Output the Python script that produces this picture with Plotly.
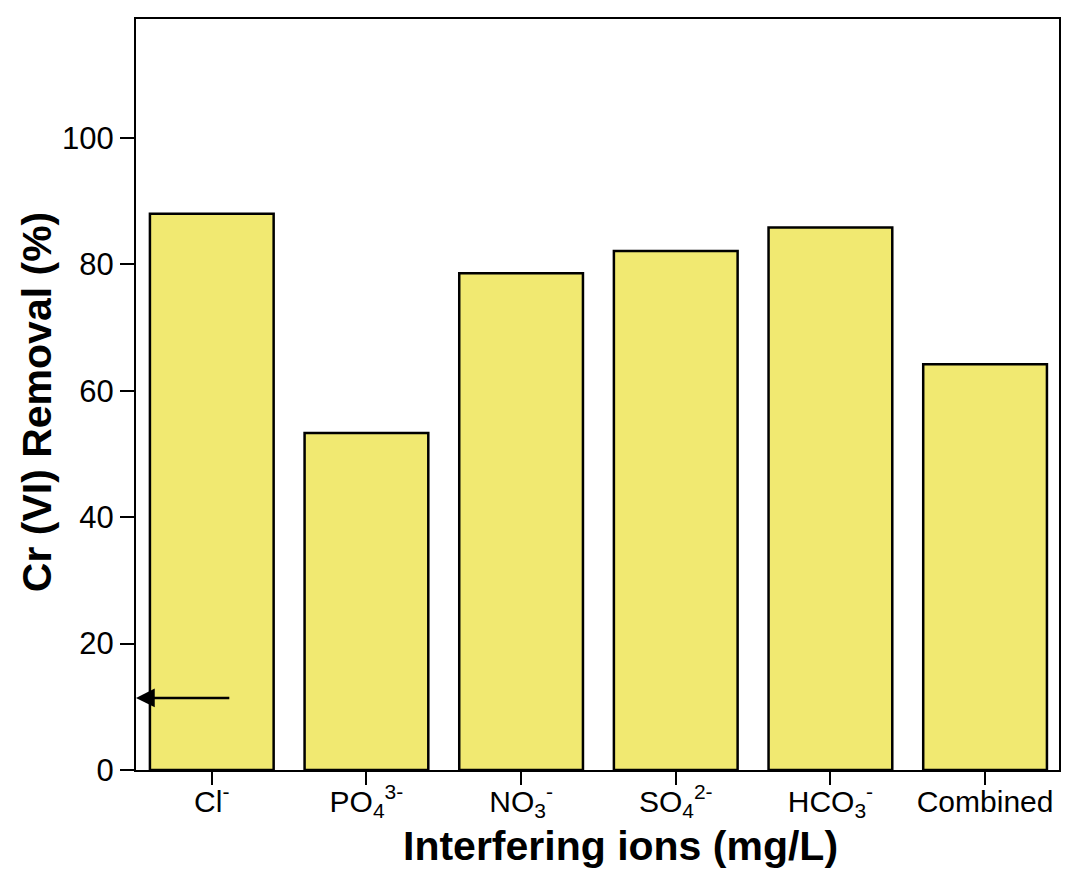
import plotly.graph_objects as go

categories = ["Cl<sup>-</sup>", "PO<sub>4</sub><sup>3-</sup>", "NO<sub>3</sub><sup>-</sup>",
              "SO<sub>4</sub><sup>2-</sup>", "HCO<sub>3</sub><sup>-</sup>", "Combined"]
removal = [88.0, 53.3, 78.6, 82.1, 85.8, 64.2]
y_ticks = [0, 20, 40, 60, 80, 100]
arrow_y = 11.4

x_pos = list(range(len(categories)))

fig = go.Figure()
fig.add_trace(go.Bar(
    x=x_pos, y=removal, width=0.8,
    marker=dict(color="rgb(241,233,113)", line=dict(color="black", width=2.5)),
))

fig.update_layout(
    width=1067, height=869,
    margin=dict(l=136, r=6, t=19, b=99),
    paper_bgcolor="white", plot_bgcolor="white",
    showlegend=False,
    font=dict(family="Liberation Sans, Arial, sans-serif", color="black"),
)
fig.update_xaxes(
    range=[-0.49, 5.478], tickmode="array", tickvals=x_pos, ticktext=categories,
    showline=True, linecolor="black", linewidth=2, mirror=True,
    ticks="outside", ticklen=13, tickwidth=2, tickcolor="black",
    tickfont=dict(size=30), ticklabelstandoff=-9, showgrid=False, zeroline=False,
)
fig.update_yaxes(
    range=[0, 118.8], tickmode="array", tickvals=y_ticks,
    showline=True, linecolor="black", linewidth=2, mirror=True,
    ticks="outside", ticklen=14, tickwidth=2, tickcolor="black",
    tickfont=dict(size=31), showgrid=False, zeroline=False,
)

fig.add_annotation(
    x=-0.49, y=arrow_y, ax=0.123, ay=arrow_y, axref="x", ayref="y",
    xref="x", yref="y", showarrow=True, arrowhead=2, arrowsize=1.5,
    arrowwidth=2.5, arrowcolor="black", text="",
)
fig.add_annotation(
    text="<b>Interfering ions (mg/L)</b>", xref="paper", yref="paper",
    x=(622 - 136) / (1061 - 136), y=-(846 - 770) / (770 - 19),
    xanchor="center", yanchor="middle", showarrow=False,
    font=dict(size=41, color="black"),
)
fig.add_annotation(
    text="<b>Cr (VI) Removal (%)</b>", xref="paper", yref="paper",
    x=-(136 - 37) / (1061 - 136), y=(770 - 402) / (770 - 19),
    xanchor="center", yanchor="middle", showarrow=False, textangle=-90,
    font=dict(size=41, color="black"),
)

fig.write_html("out.html")
